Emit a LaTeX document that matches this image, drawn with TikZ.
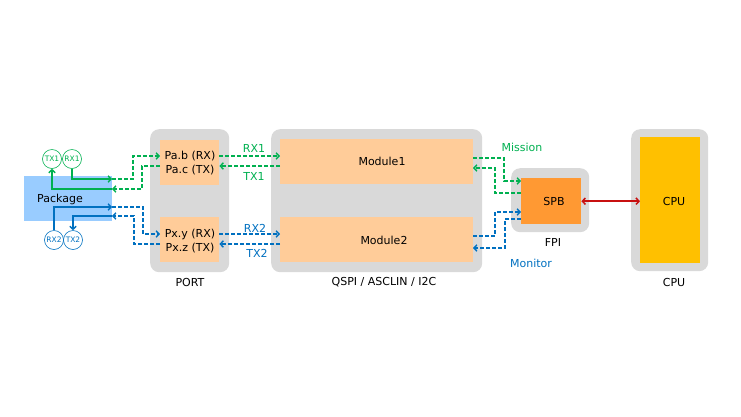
\documentclass[tikz,border=0pt]{standalone}
\usepackage{fontspec}
\setmainfont{DejaVu Sans}
\usetikzlibrary{arrows.meta}
\definecolor{gr}{RGB}{0,176,80}
\definecolor{bl}{RGB}{0,112,192}
\definecolor{lg}{RGB}{217,217,217}
\definecolor{peach}{RGB}{255,204,153}
\definecolor{spbc}{RGB}{255,153,51}
\definecolor{cpuc}{RGB}{255,192,0}
\definecolor{pkgc}{RGB}{153,204,255}
\definecolor{redc}{RGB}{200,16,16}
\begin{document}
\begin{tikzpicture}[x=1pt,y=-1pt, font=\fontsize{11}{13.5}\selectfont,
  grp/.style={fill=lg, rounded corners=9pt, inner sep=0pt, anchor=north west},
  blk/.style={fill=peach, inner sep=0pt, anchor=north west},
  tip/.style={-{Straight Barb[length=3pt,width=6.5pt]}},
  gs/.style={draw=gr, line width=1.4pt},
  gd/.style={gs, dash pattern=on 4pt off 2pt},
  bs/.style={draw=bl, line width=1.4pt},
  bd/.style={bs, dash pattern=on 4pt off 2pt},
  sig/.style={circle, line width=0.6pt, minimum size=19pt, inner sep=0pt, font=\fontsize{7.5}{8}\selectfont},
  lbl/.style={inner sep=0pt}
]
\useasboundingbox (0,0) rectangle (741,416);

% groups
\node[grp, minimum width=79pt, minimum height=143pt] (port) at (150,129) {};
\node[grp, minimum width=211pt, minimum height=143pt] (modg) at (271,129) {};
\node[grp, minimum width=78pt, minimum height=64pt] (fpi) at (511,168) {};
\node[grp, minimum width=77pt, minimum height=142pt] (cpug) at (631,129) {};

% blocks
\node[blk, minimum width=59pt, minimum height=45pt] (pa) at (160,140) {};
\node[blk, minimum width=59pt, minimum height=45pt] (px) at (160,217) {};
\node[blk, minimum width=193pt, minimum height=45pt] (mod1) at (280,139) {};
\node[blk, minimum width=193pt, minimum height=45pt] (mod2) at (280,217) {};
\node[fill=spbc, inner sep=0pt, anchor=north west, minimum width=60pt, minimum height=46pt] (spb) at (521,178) {};
\node[fill=cpuc, inner sep=0pt, anchor=north west, minimum width=60pt, minimum height=126pt] (cpu) at (640,137) {};
\node[fill=pkgc, inner sep=0pt, anchor=north west, minimum width=88pt, minimum height=45pt] (pkg) at (24,176) {};

% block texts
\node[lbl, align=center] (patxt) at (190,163) {Pa.b (RX)\\Pa.c (TX)};
\node[lbl, align=center] (pxtxt) at (190,241) {Px.y (RX)\\Px.z (TX)};
\node[lbl] (m1txt) at (382,161) {Module1};
\node[lbl] (m2txt) at (384,240) {Module2};
\node[lbl] (spbtxt) at (554,201) {SPB};
\node[lbl] (cputxt) at (674,201) {CPU};
\node[lbl] (pkgtxt) at (60,199) {Package};

% group labels
\node[lbl] (portlbl) at (190,282) {PORT};
\node[lbl] (modlbl) at (384,282) {QSPI / ASCLIN / I2C};
\node[lbl] (fpilbl) at (553,242) {FPI};
\node[lbl] (cpulbl) at (674,282) {CPU};

% signal circles
\node[sig, draw=gr, text=gr] (tx1) at (52,159) {TX1};
\node[sig, draw=gr, text=gr] (rx1) at (72,159) {RX1};
\node[sig, draw=bl, text=bl] (rx2) at (54,240) {RX2};
\node[sig, draw=bl, text=bl] (tx2) at (73,240) {TX2};

% coordinates
\coordinate (pA1) at (112,179);
\coordinate (pA2) at (112,189);
\coordinate (pB1) at (112,207);
\coordinate (pB2) at (112,216);
\coordinate (paRX) at (160,156);
\coordinate (paTX) at (160,166);
\coordinate (pxRX) at (160,234);
\coordinate (pxTX) at (160,244);
\coordinate (m1a) at (473,158);
\coordinate (m1b) at (473,168);
\coordinate (m2a) at (473,236);
\coordinate (m2b) at (473,248);
\coordinate (spA) at (521,181);
\coordinate (spB) at (521,193);
\coordinate (spC) at (521,212);
\coordinate (spD) at (521,219);

% green package side
\draw[gs,tip] (rx1.south) |- (pA1);
\draw[gd,tip] (pA1) -- (133,179) |- (paRX);
\draw[gd,tip] (paTX) -- (142,166) |- (pA2);
\draw[gs,tip] (pA2) -| (tx1.south);
% blue package side
\draw[bs,tip] (rx2.north) |- (pB1);
\draw[bd,tip] (pB1) -- (143,207) |- (pxRX);
\draw[bd,tip] (pxTX) -- (134,244) |- (pB2);
\draw[bs,tip] (pB2) -| (tx2.north);

% port <-> modules
\draw[gd,tip] (pa.east |- paRX) -- (mod1.west |- paRX);
\draw[gd,tip] (mod1.west |- paTX) -- (pa.east |- paTX);
\draw[bd,tip] (px.east |- pxRX) -- (mod2.west |- pxRX);
\draw[bd,tip] (mod2.west |- pxTX) -- (px.east |- pxTX);

% modules <-> SPB
\draw[gd,tip] (m1a) -- (504,158) |- (spA);
\draw[gd,tip] (spB) -- (495,193) |- (m1b);
\draw[bd,tip] (m2a) -- (495,236) |- (spC);
\draw[bd,tip] (spD) -- (505,219) |- (m2b);

% SPB <-> CPU
\draw[draw=redc, line width=1.5pt, {Straight Barb[length=3pt,width=6.5pt]}-{Straight Barb[length=3pt,width=6.5pt]}] (spb.east) -- (cpu.west |- spb.east);

% connector labels
\node[lbl, text=gr] (lrx1) at (254,148) {RX1};
\node[lbl, text=gr] (ltx1) at (254,176) {TX1};
\node[lbl, text=bl] (lrx2) at (255,228) {RX2};
\node[lbl, text=bl] (ltx2) at (257,253) {TX2};
\node[lbl, text=gr] (lmis) at (522,147) {Mission};
\node[lbl, text=bl] (lmon) at (531,263) {Monitor};
\end{tikzpicture}
\end{document}
